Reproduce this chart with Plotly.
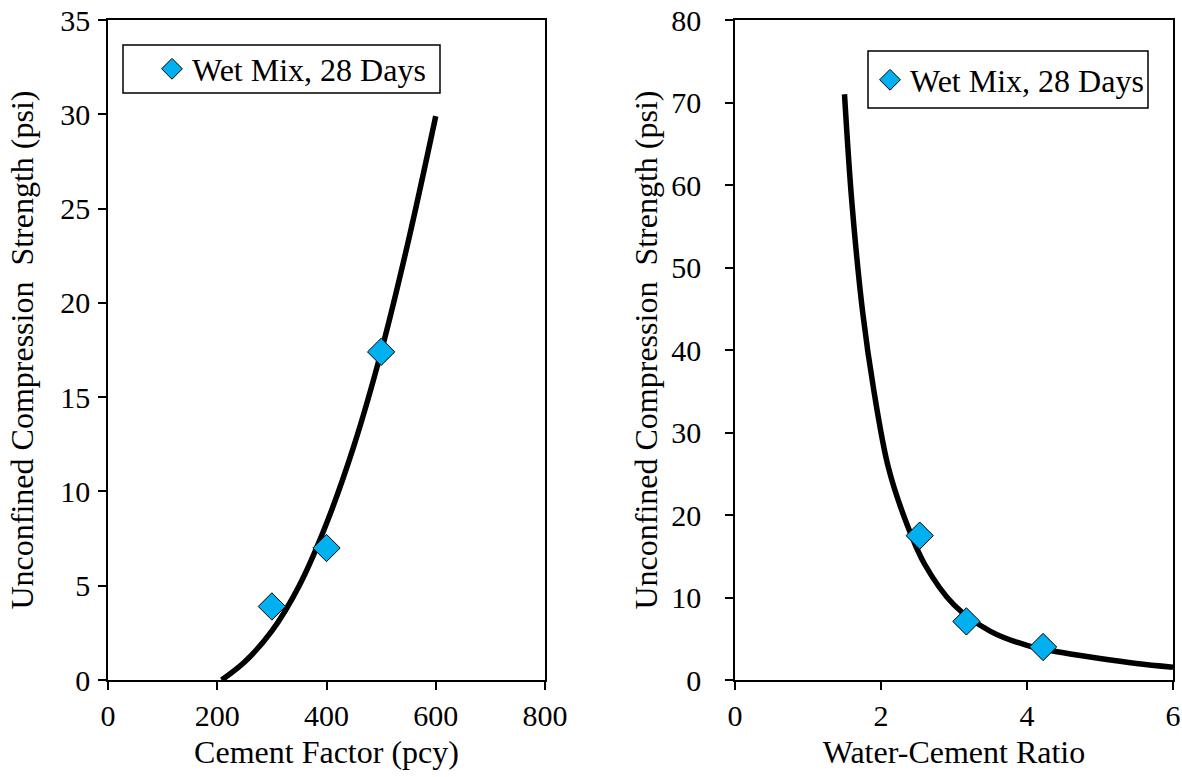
import plotly.graph_objects as go

# ---- data ----
cf_points_x = [300, 400, 500]
cf_points_y = [3.9, 7.0, 17.4]
cf_curve_x = [208, 250, 300, 350, 400, 450, 500, 550, 600]
cf_curve_y = [0.0, 0.95, 2.6, 5.0, 8.3, 12.4, 17.4, 23.3, 29.9]

wc_points_x = [2.53, 3.17, 4.22]
wc_points_y = [17.5, 7.1, 4.0]
wc_curve_x = [1.5, 1.6, 1.75, 1.9, 2.1, 2.35, 2.6, 3.0, 3.5, 4.0, 4.5, 5.0, 5.5, 6.0]
wc_curve_y = [71.0, 58.0, 44.5, 35.2, 25.8, 19.0, 14.0, 9.1, 5.9, 4.2, 3.3, 2.6, 2.0, 1.55]

series_name = "Wet Mix, 28 Days"
y_title = "Unconfined Compression \u00a0Strength (psi)"
x_title_left = "Cement Factor (pcy)"
x_title_right = "Water-Cement Ratio"

W, H = 1182, 777
FONT = "Liberation Serif, Times New Roman, serif"
FS_TICK = 30
FS_TITLE = 32
MARKER_COLOR = "#00B0F0"

fig = go.Figure()

fig.add_trace(go.Scatter(x=cf_curve_x, y=cf_curve_y, mode="lines", line=dict(color="black", width=5.5, shape="spline"),
                         showlegend=False, xaxis="x", yaxis="y", hoverinfo="skip"))
fig.add_trace(go.Scatter(x=cf_points_x, y=cf_points_y, mode="markers", name=series_name,
                         marker=dict(symbol="diamond", size=21, color=MARKER_COLOR, line=dict(color="black", width=1)),
                         xaxis="x", yaxis="y", legend="legend"))

fig.add_trace(go.Scatter(x=wc_curve_x, y=wc_curve_y, mode="lines", line=dict(color="black", width=5.5, shape="spline"),
                         showlegend=False, xaxis="x2", yaxis="y2", hoverinfo="skip"))
fig.add_trace(go.Scatter(x=wc_points_x, y=wc_points_y, mode="markers", name=series_name,
                         marker=dict(symbol="diamond", size=21, color=MARKER_COLOR, line=dict(color="black", width=1)),
                         xaxis="x2", yaxis="y2", legend="legend2"))

def px_x(p):
    return p / W

def px_y(p):
    return 1 - p / H

axis_common = dict(showgrid=False, zeroline=False, showline=True, linecolor="black", linewidth=1.5,
                   mirror=True, ticks="outside", ticklen=8, tickwidth=1.5, tickcolor="black", automargin=False,
                   tickfont=dict(family=FONT, size=FS_TICK, color="black"))

fig.update_layout(
    width=W, height=H,
    margin=dict(l=0, r=0, t=0, b=0),
    paper_bgcolor="white", plot_bgcolor="white",
    font=dict(family=FONT, size=FS_TITLE, color="black"),
    xaxis=dict(domain=[px_x(108), px_x(545)], range=[0, 800], dtick=200, anchor="y",
               title=dict(text=x_title_left, font=dict(family=FONT, size=FS_TITLE), standoff=10), **axis_common),
    yaxis=dict(domain=[px_y(680), px_y(20)], range=[0, 35], dtick=5, anchor="x", ticklabelstandoff=2,
               title=dict(text=y_title, font=dict(family=FONT, size=FS_TITLE), standoff=17), **axis_common),
    xaxis2=dict(domain=[px_x(735), px_x(1173)], range=[0, 6], dtick=2, anchor="y2",
                title=dict(text=x_title_right, font=dict(family=FONT, size=FS_TITLE), standoff=10), **axis_common),
    yaxis2=dict(domain=[px_y(680), px_y(20)], range=[0, 80], dtick=10, anchor="x2", ticklabelstandoff=18,
                title=dict(text=y_title, font=dict(family=FONT, size=FS_TITLE), standoff=4), **axis_common),
    legend=dict(x=px_x(152), y=px_y(69), xanchor="left", yanchor="middle", bgcolor="rgba(0,0,0,0)",
                borderwidth=0, font=dict(family=FONT, size=FS_TITLE)),
    legend2=dict(x=px_x(870), y=px_y(80), xanchor="left", yanchor="middle", bgcolor="rgba(0,0,0,0)",
                 borderwidth=0, font=dict(family=FONT, size=FS_TITLE)),
    shapes=[
        dict(type="rect", xref="paper", yref="paper", x0=px_x(123), x1=px_x(440), y0=px_y(93), y1=px_y(45),
             line=dict(color="black", width=1.5), fillcolor="rgba(0,0,0,0)", layer="below"),
        dict(type="rect", xref="paper", yref="paper", x0=px_x(868), x1=px_x(1148), y0=px_y(108), y1=px_y(51),
             line=dict(color="black", width=1.5), fillcolor="rgba(0,0,0,0)", layer="below"),
    ],
)

fig.write_html("out.html")
